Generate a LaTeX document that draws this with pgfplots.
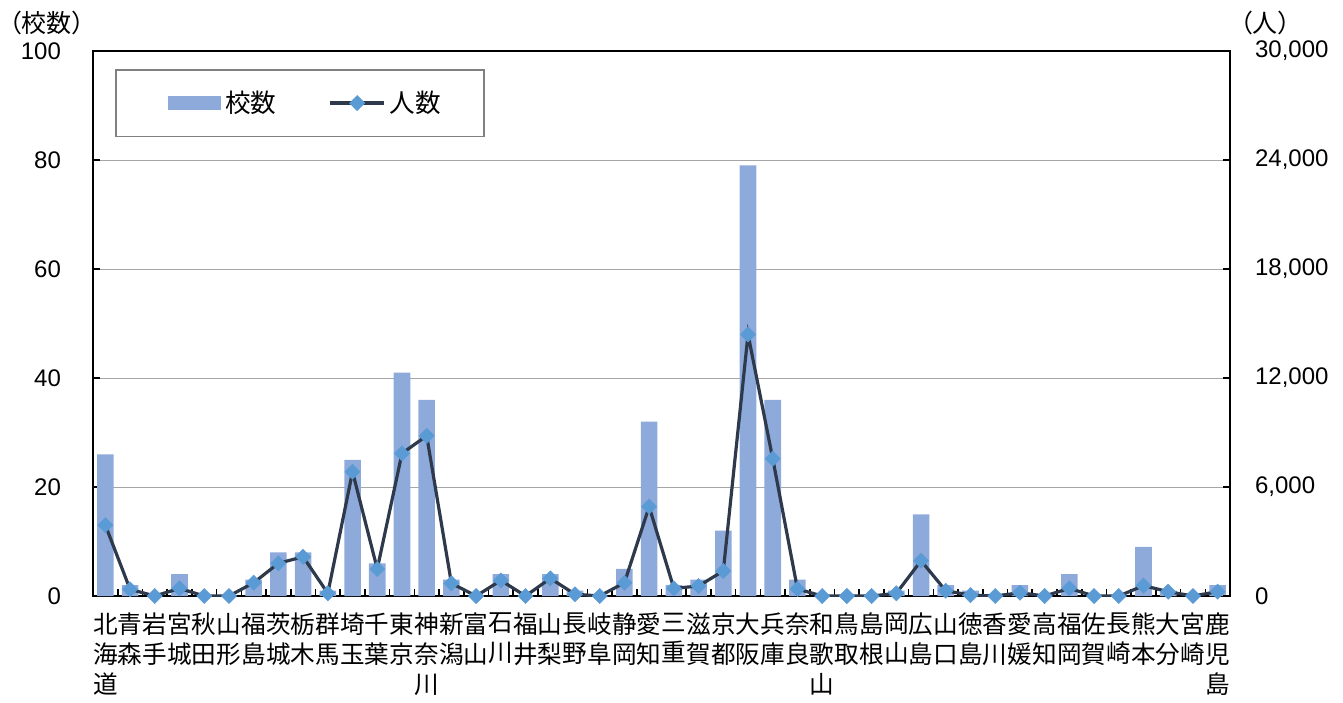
\documentclass[border=0pt]{standalone}
\usepackage{pgfplots}
\pgfplotsset{compat=1.18}
\usepackage{pgfplotstable}
\usepackage{fontspec}
\setmainfont{Liberation Sans}
\newfontfamily\cjk{Noto Sans CJK JP}
\newfontfamily\cjkp{Noto Sans CJK JP}[RawFeature=+palt]

\definecolor{barblue}{HTML}{8EAADB}
\definecolor{mkblue}{HTML}{5B9BD5}
\definecolor{lineclr}{HTML}{2E3A4C}

\pgfplotsset{
  linelegend/.style={legend image code/.code={%
    \draw[mark repeat=2, mark phase=2, ##1] plot coordinates {(0pt,0pt) (13.5pt,0pt) (27pt,0pt)};}},
}

% id: prefecture index, kosu: schools (left axis), ninzu: persons (right axis)
\pgfplotstableread{
id kosu ninzu
0 26 3900
1 2 370
2 0 0
3 4 420
4 0 0
5 0 0
6 3 730
7 8 1800
8 8 2160
9 1 150
10 25 6840
11 6 1490
12 41 7850
13 36 8820
14 3 700
15 0 0
16 4 860
17 0 0
18 4 970
19 1 100
20 0 0
21 5 730
22 32 4920
23 2 420
24 3 550
25 12 1380
26 79 14400
27 36 7560
28 3 390
29 0 0
30 0 0
31 0 0
32 1 150
33 15 1940
34 2 290
35 1 50
36 0 0
37 2 180
38 0 0
39 4 420
40 0 0
41 0 0
42 9 570
43 1 240
44 0 0
45 2 240
}\data

\begin{document}
\begin{tikzpicture}
\begin{axis}[
  name=ax,
  width=568.5pt, height=272.5pt, scale only axis,
  clip=false,
  xmin=-0.5, xmax=45.5,
  ymin=0, ymax=100,
  ytick={0,20,...,100},
  ytick pos=left,
  xtick={0,...,45},
  xtick pos=bottom,
  minor xtick={-0.5,0.5,...,45.5},
  tick align=inside,
  major tick length=3.5pt,
  minor tick length=3.5pt,
  major x tick style={draw=none},
  tick style={black, line width=0.8pt},
  ymajorgrids,
  grid style={draw=gray!70, line width=0.5pt},
  axis line style={line width=1.2pt},
  /pgf/number format/assume math mode=true,
  yticklabel style={font=\fontsize{12}{13}\selectfont, xshift=-12.5pt},
  xticklabel style={font=\cjk\fontsize{12.3}{15}\selectfont, align=center, anchor=north, yshift=-5pt},
  xticklabels={{北\\海\\道},{青\\森},{岩\\手},{宮\\城},{秋\\田},{山\\形},{福\\島},{茨\\城},{栃\\木},{群\\馬},{埼\\玉},{千\\葉},{東\\京},{神\\奈\\川},{新\\潟},{富\\山},{石\\川},{福\\井},{山\\梨},{長\\野},{岐\\阜},{静\\岡},{愛\\知},{三\\重},{滋\\賀},{京\\都},{大\\阪},{兵\\庫},{奈\\良},{和\\歌\\山},{鳥\\取},{島\\根},{岡\\山},{広\\島},{山\\口},{徳\\島},{香\\川},{愛\\媛},{高\\知},{福\\岡},{佐\\賀},{長\\崎},{熊\\本},{大\\分},{宮\\崎},{鹿\\児\\島}},
]
\addplot[ybar, bar width=0.67, fill=barblue, draw=none] table[x=id, y=kosu] {\data};
\end{axis}
\begin{axis}[
  width=568.5pt, height=272.5pt, scale only axis,
  xmin=-0.5, xmax=45.5,
  axis x line=none,
  ymin=0, ymax=30000,
  axis y line*=right,
  ytick={0,6000,...,30000},
  scaled y ticks=false,
  tick align=inside,
  major tick length=3.5pt,
  tick style={black, line width=0.8pt},
  axis line style={line width=1.2pt},
  /pgf/number format/assume math mode=true,
  /pgf/number format/1000 sep={,},
  yticklabel style={font=\fontsize{12}{13}\selectfont, xshift=9pt},
  legend columns=2,
  legend style={at={(0.0193,0.967)}, anchor=north west, draw=gray, line width=0.8pt,
    font=\cjk\fontsize{12.8}{14}\selectfont, inner xsep=19.5pt, inner ysep=8.5pt,
    /tikz/every even column/.append style={column sep=24pt}},
]
\addlegendimage{legend image code/.code={\path (0pt,0pt); \fill[barblue] (6.5pt,-3pt) rectangle (32.5pt,3pt);}}
\addlegendentry{校数}
\addplot[lineclr, line width=1.6pt, mark=square*, mark size=2.7pt,
  mark options={rotate=45, fill=mkblue, draw=mkblue, line width=0.2pt},
  linelegend]
  table[x=id, y=ninzu] {\data};
\addlegendentry{人数}
\end{axis}
\node[font=\cjkp\fontsize{12.5}{14}\selectfont, inner sep=0pt, anchor=west]
  at ([xshift=-42pt, yshift=14pt]ax.north west) {（校数）};
\node[font=\cjkp\fontsize{12.5}{14}\selectfont, inner sep=0pt, anchor=west]
  at ([xshift=5pt, yshift=14pt]ax.north east) {（人）};
\path ([xshift=-46.5pt, yshift=25.5pt]ax.north west) rectangle ([xshift=56.5pt, yshift=-48.5pt]ax.south east);
\end{tikzpicture}
\end{document}
